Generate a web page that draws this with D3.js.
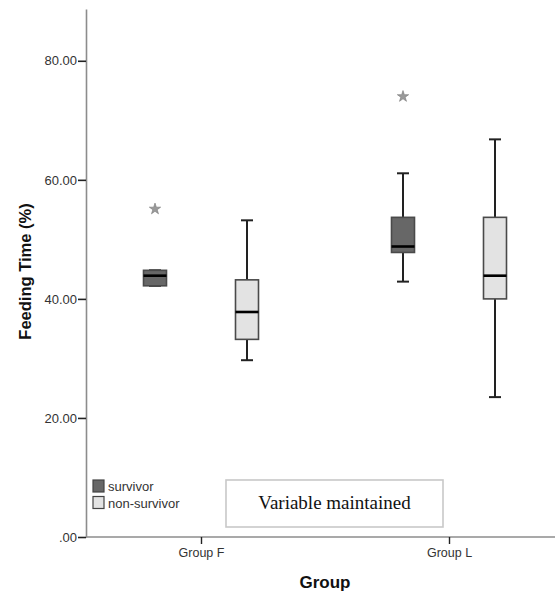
<!DOCTYPE html>
<html>
<head>
<meta charset="utf-8">
<script src="https://cdn.jsdelivr.net/npm/d3@7"></script>
<style>
  body { margin: 0; background: #fff; }
  .tick text { font-family: Arial, "Liberation Sans", sans-serif; fill: #333; }
</style>
</head>
<body>
<div id="viz"></div>
<script>

const groups = ["Group F", "Group L"];
const statuses = ["survivor", "non-survivor"];
const statusColors = ["#676767", "#e3e3e3"];
const yTicks = [0, 20, 40, 60, 80];

// five-number summaries
const boxGroup = ["Group F", "Group F", "Group L", "Group L"];
const boxStatus = ["survivor", "non-survivor", "survivor", "non-survivor"];
const boxMin = [42.2, 29.7, 42.9, 23.5];
const boxQ1 = [42.2, 33.2, 47.8, 40.0];
const boxMed = [43.9, 37.8, 48.8, 43.9];
const boxQ3 = [44.8, 43.2, 53.7, 53.7];
const boxMax = [44.8, 53.2, 61.1, 66.8];

// extreme values (stars)
const outGroup = ["Group F", "Group L"];
const outStatus = ["survivor", "survivor"];
const outValue = [55.1, 74.0];

const W = 555, H = 595;
const plotLeft = 86, plotBottom = 537, plotTop = 9;

const svg = d3.select("#viz")
  .append("svg")
  .attr("width", W)
  .attr("height", H);

const x = d3.scalePoint()
  .domain(groups)
  .range([77, 573])
  .padding(0.5);

const offset = d3.scalePoint()
  .domain(statuses)
  .range([-46, 46]);

const color = d3.scaleOrdinal().domain(statuses).range(statusColors);

const y = d3.scaleLinear()
  .domain([0, 88.7])
  .range([plotBottom, plotTop]);

const boxes = boxGroup.map((g, i) => ({
  group: g, status: boxStatus[i],
  min: boxMin[i], q1: boxQ1[i], med: boxMed[i], q3: boxQ3[i], max: boxMax[i]
}));
const outliers = outGroup.map((g, i) => ({group: g, status: outStatus[i], value: outValue[i]}));

const boxW = 23, capW = 12;

// y axis
const yAxis = svg.append("g")
  .attr("transform", `translate(${plotLeft},0)`)
  .call(d3.axisLeft(y).tickValues(yTicks).tickSize(8).tickSizeOuter(0)
    .tickFormat(d => d === 0 ? ".00" : d3.format(".2f")(d)));
yAxis.select(".domain").attr("stroke", "#8c8c8c").attr("stroke-width", 1.6);
yAxis.selectAll(".tick line").attr("stroke", "#222").attr("stroke-width", 1.6);
yAxis.selectAll(".tick text").attr("font-size", 13).attr("x", -9);

// x axis
const xAxis = svg.append("g")
  .attr("transform", `translate(0,${plotBottom})`)
  .call(d3.axisBottom(x).tickSize(7).tickSizeOuter(0));
xAxis.select(".domain").attr("d", `M${plotLeft},0H${W}`)
  .attr("stroke", "#8c8c8c").attr("stroke-width", 1.6);
xAxis.selectAll(".tick line").attr("stroke", "#222").attr("stroke-width", 1.4);
xAxis.selectAll(".tick text").attr("font-size", 12.5).attr("y", 11);

// axis titles
svg.append("text")
  .attr("x", 325)
  .attr("y", 588)
  .attr("text-anchor", "middle")
  .attr("font-family", "Arial, 'Liberation Sans', sans-serif")
  .attr("font-weight", "bold")
  .attr("font-size", 17)
  .attr("fill", "#111")
  .text("Group");

svg.append("text")
  .attr("transform", "translate(31,271.5) rotate(-90)")
  .attr("text-anchor", "middle")
  .attr("font-family", "Arial, 'Liberation Sans', sans-serif")
  .attr("font-weight", "bold")
  .attr("font-size", 16.5)
  .attr("fill", "#111")
  .text("Feeding Time (%)");

// boxplots
const bx = svg.append("g").selectAll("g")
  .data(boxes)
  .enter()
  .append("g")
  .attr("transform", d => `translate(${x(d.group) + offset(d.status)},0)`);

// whiskers
bx.append("line")
  .attr("y1", d => y(d.q3)).attr("y2", d => y(d.max))
  .attr("stroke", "#222").attr("stroke-width", 2);
bx.append("line")
  .attr("y1", d => y(d.q1)).attr("y2", d => y(d.min))
  .attr("stroke", "#222").attr("stroke-width", 2);
bx.append("line")
  .attr("x1", -capW / 2).attr("x2", capW / 2)
  .attr("y1", d => y(d.max)).attr("y2", d => y(d.max))
  .attr("stroke", "#222").attr("stroke-width", 2);
bx.append("line")
  .attr("x1", -capW / 2).attr("x2", capW / 2)
  .attr("y1", d => y(d.min)).attr("y2", d => y(d.min))
  .attr("stroke", "#222").attr("stroke-width", 2);

bx.append("rect")
  .attr("x", -boxW / 2)
  .attr("width", boxW)
  .attr("y", d => y(d.q3))
  .attr("height", d => y(d.q1) - y(d.q3))
  .attr("fill", d => color(d.status))
  .attr("stroke", "#4a4a4a")
  .attr("stroke-width", 1.6);

bx.append("line")
  .attr("x1", -boxW / 2).attr("x2", boxW / 2)
  .attr("y1", d => y(d.med)).attr("y2", d => y(d.med))
  .attr("stroke", "#000").attr("stroke-width", 2.6);

// extreme value stars
svg.append("g").selectAll("path")
  .data(outliers)
  .enter()
  .append("path")
  .attr("d", d3.symbol().type(d3.symbolStar).size(40))
  .attr("transform", d => `translate(${x(d.group) + offset(d.status)},${y(d.value)})`)
  .attr("fill", "#9a9a9a")
  .attr("stroke", "#777")
  .attr("stroke-width", 0.6);

// legend
const legend = svg.append("g").selectAll("g")
  .data(statuses)
  .enter()
  .append("g")
  .attr("transform", (d, i) => `translate(93,${480 + i * 16.5})`);
legend.append("rect")
  .attr("width", 11).attr("height", 12)
  .attr("fill", d => color(d))
  .attr("stroke", "#444").attr("stroke-width", 1.2);
legend.append("text")
  .attr("x", 15).attr("y", 11)
  .attr("font-family", "Arial, 'Liberation Sans', sans-serif")
  .attr("font-size", 13)
  .attr("fill", "#333")
  .text(d => d);

// annotation box
svg.append("rect")
  .attr("x", 226).attr("y", 480)
  .attr("width", 217).attr("height", 47)
  .attr("fill", "#fff")
  .attr("stroke", "#c8c8c8")
  .attr("stroke-width", 1.6);
svg.append("text")
  .attr("x", 334.5).attr("y", 509)
  .attr("text-anchor", "middle")
  .attr("font-family", "'Liberation Serif', 'Times New Roman', serif")
  .attr("font-size", 19)
  .attr("fill", "#111")
  .text("Variable maintained");

</script>
</body>
</html>
